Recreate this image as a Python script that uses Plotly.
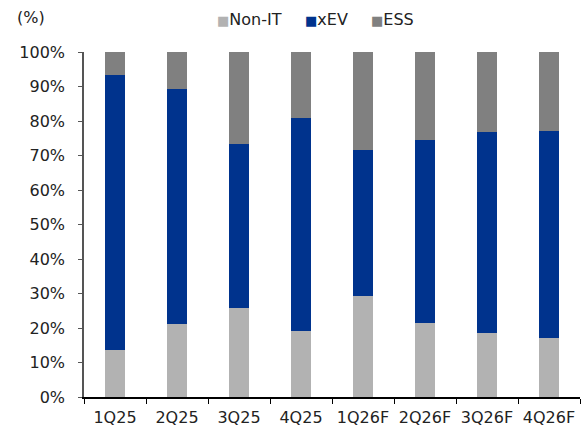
import plotly.graph_objects as go

categories = ["1Q25", "2Q25", "3Q25", "4Q25", "1Q26F", "2Q26F", "3Q26F", "4Q26F"]
non_it = [13.6, 21.1, 25.7, 19.1, 29.4, 21.5, 18.6, 17.2]
xev = [79.7, 68.3, 47.7, 61.9, 42.2, 53.1, 58.2, 59.9]
ess = [6.7, 10.6, 26.6, 19.0, 28.4, 25.4, 23.2, 22.9]
y_ticks = [0, 10, 20, 30, 40, 50, 60, 70, 80, 90, 100]
y_tick_labels = [f"{v}%" for v in y_ticks]
series = [("Non-IT", non_it, "#B2B2B2"), ("xEV", xev, "#00338D"), ("ESS", ess, "#808080")]
legend_x = [0.265, 0.442, 0.575]

FONT = "DejaVu Sans"
fig = go.Figure()
for name, vals, col in series:
    fig.add_trace(go.Bar(x=categories, y=vals, name=name, marker=dict(color=col, line=dict(width=0)),
                         width=0.31))

fig.update_layout(
    barmode="stack",
    width=584, height=431,
    margin=dict(l=84, r=4, t=52, b=34, autoexpand=False),
    plot_bgcolor="white", paper_bgcolor="white",
    font=dict(family=FONT, size=16, color="#222"),
    showlegend=False,
)
fig.update_xaxes(showline=True, linecolor="#000", linewidth=1.5, ticks="outside", tickson="boundaries",
                 ticklen=5, tickcolor="#000", ticklabelstandoff=5,
                 tickfont=dict(size=16, family=FONT, color="#222"),
                 range=[-0.5, 7.5])
fig.update_yaxes(range=[0, 100], tickvals=y_ticks, ticktext=y_tick_labels, showgrid=False,
                 showline=True, linecolor="#555", linewidth=1.5, ticks="outside", ticklen=4,
                 tickcolor="#555", ticklabelstandoff=10, tickfont=dict(size=16, family=FONT, color="#222"),
                 zeroline=False)
fig.add_annotation(text="(%)", xref="paper", yref="paper", x=-0.139, y=1.10, xanchor="left",
                   yanchor="middle", showarrow=False, font=dict(size=16, family=FONT, color="#222"))

# legend drawn as text annotations
for (name, _, col), lx in zip(series, legend_x):
    fig.add_annotation(text=f"<span style='color:{col};font-size:13px'>■</span>{name}",
                       xref="paper", yref="paper", x=lx, y=1.093,
                       xanchor="left", yanchor="middle", showarrow=False,
                       font=dict(size=16, family=FONT, color="#222"))
fig.write_html("out.html", config={"displayModeBar": False},
               post_script="document.body.style.margin='0';document.body.style.padding='0';")
